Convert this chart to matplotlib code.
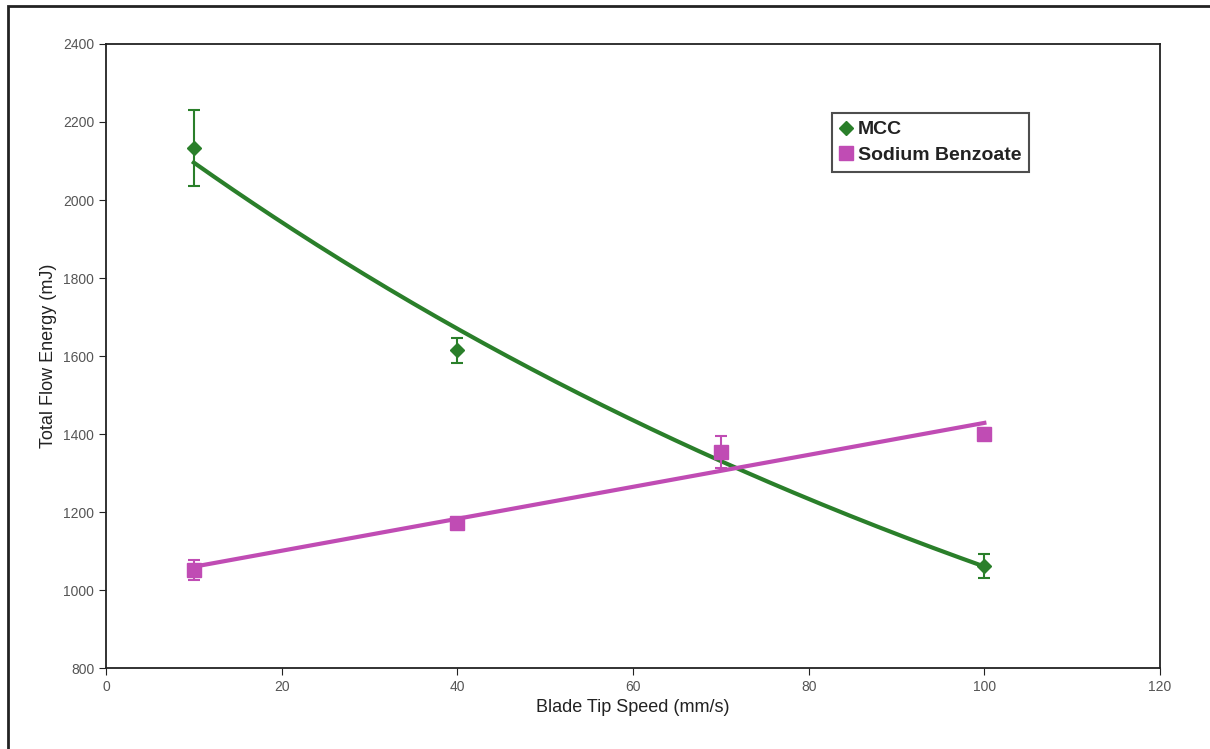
import numpy as np
import matplotlib
matplotlib.use('Agg')
import matplotlib.pyplot as plt
from matplotlib.patches import Rectangle

plt.rcParams['font.family'] = ['Liberation Sans', 'DejaVu Sans']

# blade tip speed (mm/s)
speed = [10, 40, 70, 100]

mcc = [2133, 1615, 1350, 1062]
mcc_err = [97, 32, 10, 30]

sb = [1051, 1172, 1354, 1400]
sb_err = [25, 10, 42, 15]

green = '#2a7f2a'
pink = '#c04cb4'

fig = plt.figure(figsize=(12.1, 7.49), dpi=100)
ax = fig.add_axes([0.0876, 0.108, 0.8711, 0.8333])

# outer frame round the whole chart
fig.patches.append(Rectangle((8/1210, -0.05), 1.1, 1 - 6/749 + 0.05,
                             transform=fig.transFigure, fill=False,
                             edgecolor='#222222', linewidth=2))

x = np.array(speed, dtype=float)
xs = np.linspace(10, 100, 200)

# trendlines: exponential for MCC, linear for sodium benzoate
b, lna = np.polyfit(x, np.log(mcc), 1)
ax.plot(xs, np.exp(lna) * np.exp(b * xs), color=green, linewidth=3, zorder=2)
m, c = np.polyfit(x, sb, 1)
ax.plot(xs, m * xs + c, color=pink, linewidth=3, zorder=2)

ax.errorbar(speed, mcc, yerr=mcc_err, fmt='D', color=green, markersize=7,
            capsize=4, elinewidth=1.5, capthick=1.5, label='MCC', zorder=3)
ax.errorbar(speed, sb, yerr=sb_err, fmt='s', color=pink, markersize=10,
            capsize=4, elinewidth=1.5, capthick=1.5, label='Sodium Benzoate', zorder=4)

ax.set_xlim(0, 120)
ax.set_ylim(800, 2400)
ax.set_xticks(range(0, 121, 20))
ax.set_yticks(range(800, 2401, 200))
ax.tick_params(direction='out', length=5, labelsize=10, colors='#222222', labelcolor='#555555')
for s in ax.spines.values():
    s.set_linewidth(1.3)
    s.set_color('#222222')

ax.set_xlabel('Blade Tip Speed (mm/s)', fontsize=13, color='#222222')
ax.set_ylabel('Total Flow Energy (mJ)', fontsize=13, color='#222222')

handles, labels = ax.get_legend_handles_labels()
handles = [h[0] for h in handles]
leg = ax.legend(handles, labels, loc='upper left', bbox_to_anchor=(0.68, 0.905),
                fontsize=14, frameon=True, fancybox=False, handlelength=0.6,
                handletextpad=0.3, borderpad=0.4, labelspacing=0.4)
leg.get_frame().set_edgecolor('#222222')
leg.get_frame().set_linewidth(1.5)
for t in leg.get_texts():
    t.set_fontweight('bold')
    t.set_color('#222222')

plt.savefig('out.png', dpi=100)
plt.close()
